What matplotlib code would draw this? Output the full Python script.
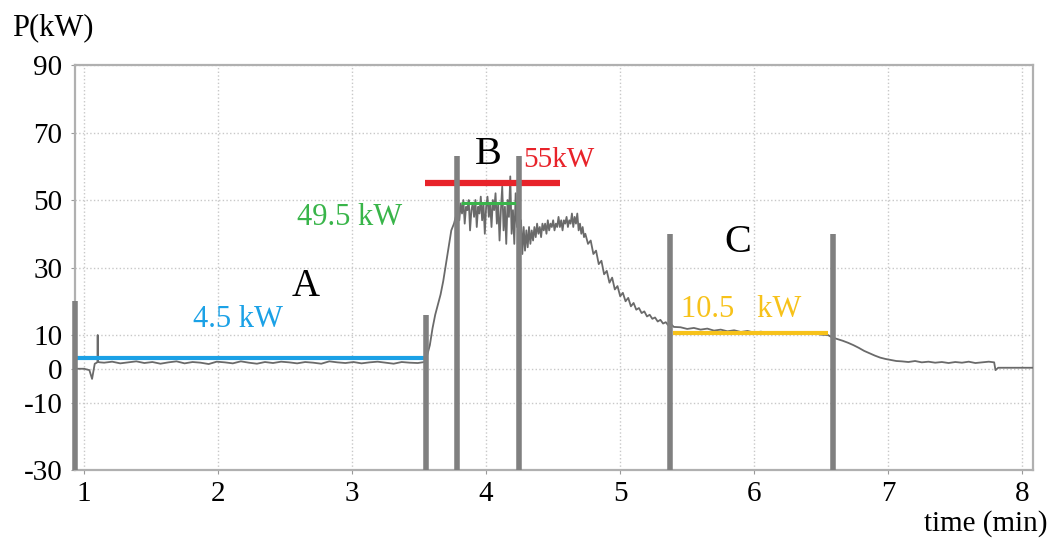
import matplotlib
matplotlib.use("Agg")
import matplotlib.pyplot as plt

plt.rcParams['font.family'] = ['Liberation Serif', 'DejaVu Serif']
plt.rcParams['axes.unicode_minus'] = False

start_t = [0.94, 1.00, 1.04, 1.06, 1.08, 1.095, 1.100, 1.102, 1.104, 1.12]
start_p = [0.0, 0.0, -0.4, -3.0, 1.5, 1.8, 2.0, 10.0, 2.0, 1.9]

idle_t = [1.15, 1.21, 1.27, 1.33, 1.39, 1.45, 1.51, 1.57, 1.63, 1.69, 1.75, 1.81, 1.87, 1.93,
          1.99, 2.05, 2.11, 2.17, 2.23, 2.29, 2.35, 2.41, 2.47, 2.53, 2.59, 2.65, 2.71, 2.77,
          2.83, 2.89, 2.95, 3.01, 3.07, 3.13, 3.19, 3.25, 3.31, 3.37, 3.43, 3.49, 3.54]
idle_p = [1.8, 2.1, 1.6, 1.9, 2.2, 1.7, 2.0, 1.5, 1.9, 2.2, 1.6, 2.0, 1.8, 1.4,
          2.1, 1.9, 1.6, 2.2, 1.8, 1.5, 2.0, 1.7, 2.1, 1.9, 1.6, 2.0, 1.8, 1.5,
          2.2, 1.9, 1.7, 2.0, 1.6, 1.9, 2.1, 1.8, 1.5, 2.0, 1.8, 1.7, 2.0]

rise_t = [3.56, 3.58, 3.60, 3.62, 3.64, 3.66, 3.68, 3.70, 3.72, 3.74, 3.76, 3.78]
rise_p = [4, 7, 12, 16, 19, 22, 26, 31, 36, 41, 43, 46]

peak_t = [3.79, 3.80, 3.81, 3.82, 3.83, 3.84, 3.85, 3.86, 3.87, 3.88, 3.89, 3.90, 3.91, 3.92,
          3.93, 3.94, 3.95, 3.96, 3.97, 3.98, 3.99, 4.00, 4.01, 4.02, 4.03, 4.04, 4.05, 4.06,
          4.07, 4.08, 4.09, 4.10, 4.11, 4.12, 4.13, 4.14, 4.15, 4.16, 4.17, 4.18, 4.19, 4.20,
          4.21, 4.22, 4.23, 4.24]
peak_p = [50, 44, 49, 46, 50, 43, 48, 47, 50, 41, 47, 49, 45, 50,
          42, 48, 46, 51, 44, 49, 40, 48, 51, 45, 49, 42, 50, 47,
          52, 43, 49, 38, 47, 54, 41, 48, 37, 50, 45, 57, 40, 47,
          37, 52, 42, 48]

hold_t = [4.25, 4.26, 4.27, 4.28, 4.29, 4.30, 4.31, 4.32, 4.33, 4.34, 4.35, 4.36, 4.37, 4.38,
          4.39, 4.40, 4.41, 4.42, 4.43, 4.44, 4.45, 4.46, 4.47, 4.48, 4.49, 4.50, 4.51, 4.52,
          4.53, 4.54, 4.55, 4.56, 4.57, 4.58, 4.59, 4.60, 4.61, 4.62, 4.63, 4.64, 4.65, 4.66,
          4.67, 4.68, 4.69, 4.70, 4.71, 4.72, 4.73, 4.74]
hold_p = [35, 44, 34, 42, 35, 41, 36, 42, 37, 41, 38, 42, 39, 43,
          40, 42, 39, 43, 41, 43, 40, 44, 41, 43, 42, 44, 41, 43,
          42, 45, 42, 44, 41, 44, 43, 45, 42, 44, 43, 46, 42, 45,
          43, 46, 41, 43, 40, 42, 39, 40]

decay_t = [4.76, 4.78, 4.80, 4.82, 4.84, 4.86, 4.88, 4.90, 4.92, 4.94, 4.96, 4.98, 5.00, 5.02,
           5.04, 5.06, 5.08, 5.10, 5.12, 5.14, 5.16, 5.18, 5.20, 5.22, 5.24, 5.26, 5.28, 5.30,
           5.32, 5.34, 5.36, 5.38, 5.40, 5.45, 5.50, 5.55, 5.60, 5.65, 5.70, 5.75, 5.80, 5.85,
           5.90, 5.95, 6.00, 6.05, 6.10, 6.15, 6.20, 6.25, 6.30, 6.35, 6.40, 6.45, 6.50, 6.55,
           6.58]
decay_p = [37, 38, 34, 35, 31, 32, 28, 29, 25.5, 27, 23.5, 24.5, 21.5, 22.5,
           20, 21, 18.5, 19.5, 17.5, 18, 16.5, 17, 15.5, 16, 14.8, 15.2, 14, 14.5,
           13.4, 13.8, 12.8, 13.2, 12.4, 12.3, 11.8, 12.1, 11.6, 11.9, 11.3, 11.6, 11.1, 11.4,
           10.9, 11.2, 10.7, 11.0, 10.6, 10.9, 10.5, 10.8, 10.4, 10.6, 10.3, 10.5, 10.1, 10.0,
           9.3]

tail_t = [6.62, 6.66, 6.70, 6.74, 6.78, 6.82, 6.86, 6.90, 6.94, 6.98, 7.02, 7.06, 7.10, 7.15,
          7.20, 7.25, 7.30, 7.35, 7.40, 7.45, 7.50, 7.55, 7.60, 7.65, 7.70, 7.75, 7.79, 7.80,
          7.82, 8.08]
tail_p = [8.8, 8.3, 7.7, 7.0, 6.2, 5.3, 4.6, 3.9, 3.3, 2.9, 2.6, 2.3, 2.2, 2.0,
          2.3, 1.9, 2.1, 1.8, 2.0, 1.7, 2.0, 1.8, 2.1, 1.7, 1.9, 2.1, 1.9, -0.4,
          0.3, 0.3]

# phase separators (gray bars)
bar_x = [0.935, 3.55, 3.785, 4.245, 5.375, 6.59]
bar_top = [20, 16, 63, 63, 40, 40]

# average power levels
level_start = [0.94, 3.545, 3.81, 5.395]
level_end = [3.54, 4.55, 4.22, 6.55]
level_val = [3.3, 55, 49, 10.7]
level_color = ['#1ba1e6', '#e8232a', '#39b54a', '#f7c21a']
level_lw = [3.0, 4.5, 2.2, 3.0]

t = start_t + idle_t + rise_t + peak_t + hold_t + decay_t + tail_t
p = start_p + idle_p + rise_p + peak_p + hold_p + decay_p + tail_p

fig = plt.figure(figsize=(10.54, 5.4), dpi=100)
ax = fig.add_axes([0.0712, 0.1296, 0.9089, 0.75])
ax.set_xlim(0.933, 8.08)
ax.set_ylim(-30, 90)

ax.set_xticks([1, 2, 3, 4, 5, 6, 7, 8])
ax.set_yticks([90, 70, 50, 30, 10, 0, -10, -30])
ax.grid(True, linestyle=':', color='#c8c8c8', linewidth=1.0)
ax.set_axisbelow(True)
for s in ax.spines.values():
    s.set_color('#b0b0b0')
    s.set_linewidth(1.6)
ax.tick_params(labelsize=21, length=3, color='#999999')
ax.tick_params(axis='y', pad=6)
ax.tick_params(axis='x', pad=5)

ax.plot(t, p, color='#6a6a6a', linewidth=1.3, zorder=3)

for x0, x1, y, c, w in zip(level_start, level_end, level_val, level_color, level_lw):
    ax.plot([x0, x1], [y, y], color=c, linewidth=w, solid_capstyle='butt', zorder=4)

ax.vlines(bar_x, -30, bar_top, color='#808080', linewidth=4.0, zorder=5, clip_on=False)

ax.text(2.15, 14.5, '4.5 kW', color='#1ba1e6', fontsize=22, ha='center', va='center')
ax.text(2.65, 24.3, 'A', color='black', fontsize=28, ha='center', va='center')
ax.text(2.985, 44.7, '49.5 kW', color='#39b54a', fontsize=22, ha='center', va='center')
ax.text(4.015, 63.5, 'B', color='black', fontsize=29, ha='center', va='center')
ax.text(4.28, 62, '55kW', color='#e8232a', fontsize=21, ha='left', va='center', zorder=6)
ax.text(5.88, 37.5, 'C', color='black', fontsize=29, ha='center', va='center')
ax.text(5.90, 17.5, '10.5   kW', color='#f7c21a', fontsize=22, ha='center', va='center')

fig.text(0.011, 0.948, 'P(kW)', fontsize=22, ha='left', va='center')
fig.text(0.994, 0.03, 'time (min)', fontsize=21, ha='right', va='center')

fig.savefig('out.png', dpi=100)
